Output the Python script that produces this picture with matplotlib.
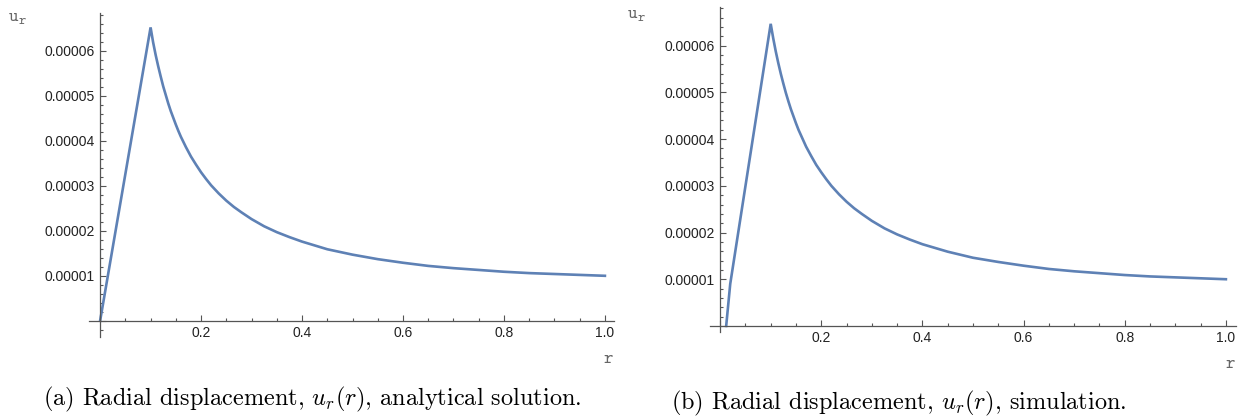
import numpy as np
import matplotlib
matplotlib.use("Agg")
import matplotlib.pyplot as plt
from matplotlib.ticker import MultipleLocator, FuncFormatter

# values (u in units of 1e-5)
r_a = [0.0, 0.1, 0.105, 0.11, 0.115, 0.12, 0.125, 0.13, 0.135, 0.14, 0.145, 0.15,
       0.155, 0.16, 0.17, 0.18, 0.19, 0.2, 0.21, 0.22, 0.235, 0.25, 0.265, 0.28,
       0.3, 0.325, 0.35, 0.375, 0.4, 0.45, 0.5, 0.55, 0.6, 0.65, 0.7, 0.75, 0.8,
       0.85, 0.9, 0.95, 1.0]
u_a = [0.0, 6.52, 6.19, 5.91, 5.66, 5.43, 5.21, 5.02, 4.83, 4.66, 4.51, 4.36,
       4.22, 4.09, 3.86, 3.65, 3.47, 3.30, 3.15, 3.01, 2.83, 2.67, 2.53, 2.41,
       2.26, 2.10, 1.97, 1.86, 1.76, 1.59, 1.47, 1.37, 1.29, 1.22, 1.17, 1.13, 1.09,
       1.06, 1.04, 1.02, 1.00]

r_b = [0.012, 0.02, 0.1, 0.105, 0.11, 0.115, 0.12, 0.125, 0.13, 0.135, 0.14, 0.145, 0.15,
       0.155, 0.16, 0.17, 0.18, 0.19, 0.2, 0.21, 0.22, 0.235, 0.25, 0.265, 0.28,
       0.3, 0.325, 0.35, 0.375, 0.4, 0.45, 0.5, 0.55, 0.6, 0.65, 0.7, 0.75, 0.8,
       0.85, 0.9, 0.95, 1.0]
u_b = [0.0, 0.9, 6.47, 6.16, 5.88, 5.63, 5.40, 5.19, 4.99, 4.81, 4.64, 4.49, 4.34,
       4.20, 4.08, 3.84, 3.64, 3.45, 3.29, 3.14, 3.00, 2.82, 2.66, 2.52, 2.40,
       2.25, 2.09, 1.96, 1.85, 1.75, 1.59, 1.46, 1.37, 1.29, 1.22, 1.17, 1.13, 1.09,
       1.06, 1.04, 1.02, 1.00]

captions = ["(a) Radial displacement, $u_r(r)$, analytical solution.",
            "(b) Radial displacement, $u_r(r)$, simulation."]

LINE = "#5E81B5"
AX = "#555555"
LBL = "#666666"

fig = plt.figure(figsize=(12.43, 4.17), dpi=100)

def panel(rect, r, u, xlim, ylim):
    ax = fig.add_axes(rect)
    ax.plot(r, np.array(u) * 1e-5, color=LINE, lw=1.9, solid_joinstyle="miter")
    ax.set_xlim(*xlim); ax.set_ylim(*ylim)
    for s in ("top", "right"): ax.spines[s].set_visible(False)
    for s in ("left", "bottom"):
        ax.spines[s].set_position(("data", 0))
        ax.spines[s].set_color(AX); ax.spines[s].set_linewidth(0.9)
    ax.xaxis.set_major_locator(MultipleLocator(0.2))
    ax.xaxis.set_minor_locator(MultipleLocator(0.05))
    ax.yaxis.set_major_locator(MultipleLocator(1e-5))
    ax.yaxis.set_minor_locator(MultipleLocator(2e-6))
    ax.xaxis.set_major_formatter(FuncFormatter(lambda v, p: "" if abs(v) < 1e-9 else f"{v:.1f}"))
    ax.yaxis.set_major_formatter(FuncFormatter(lambda v, p: "" if abs(v) < 1e-12 else f"{v:.5f}"))
    ax.tick_params(which="both", direction="in", color=AX, width=0.8,
                   labelsize=10, labelcolor="#222222", pad=4)
    ax.tick_params(which="major", length=4)
    ax.tick_params(which="minor", length=2.5)
    for t in ax.get_xticklabels() + ax.get_yticklabels():
        t.set_fontfamily("Liberation Sans")
    ax.patch.set_alpha(0)
    return ax

W, H = 1243, 417
def rect(x0, y0, x1, y1):
    return [x0 / W, 1 - y1 / H, (x1 - x0) / W, (y1 - y0) / H]

panel(rect(89, 13, 614, 337), r_a, u_a, (-0.022, 1.018), (-0.36e-5, 6.84e-5))
panel(rect(710, 7, 1236, 332), r_b, u_b, (-0.02, 1.02), (-0.13e-5, 6.83e-5))

# Mathematica-style axis labels
for (ux, uy), (rx, ry) in [((18, 21), (608, 363)), ((637, 18), (1230, 368))]:
    fig.text(ux / W, 1 - uy / H, "u", family="cmtt10", fontsize=13,
             color=LBL, ha="right", va="baseline")
    fig.text((ux + 0.5) / W, 1 - (uy + 3) / H, "r", family="cmtt10", fontsize=10,
             color=LBL, ha="left", va="baseline")
    fig.text(rx / W, 1 - ry / H, "r", family="cmtt10", fontsize=13,
             color=LBL, ha="center", va="baseline")

for cx, cy, cap in [(312, 399, captions[0]), (899, 403, captions[1])]:
    fig.text(cx / W, 1 - cy / H, cap, family="cmr10", math_fontfamily="cm",
             fontsize=17.5, ha="center", va="center", color="black")

fig.savefig("out.png", dpi=100)
